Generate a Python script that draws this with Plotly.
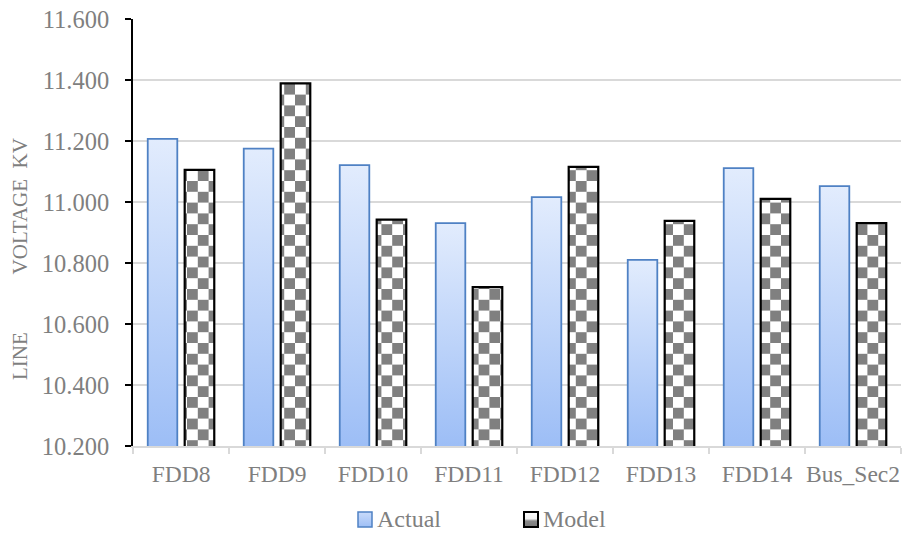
import plotly.graph_objects as go

# Feeder line voltages (kV): measured vs. simulated
feeders = ["FDD8", "FDD9", "FDD10", "FDD11", "FDD12", "FDD13", "FDD14", "Bus_Sec2"]
actual_kv = [11.207, 11.175, 11.121, 10.931, 11.016, 10.810, 11.111, 11.052]
model_kv = [11.105, 11.389, 10.942, 10.721, 11.115, 10.938, 11.010, 10.931]

y_ticks = [10.2, 10.4, 10.6, 10.8, 11.0, 11.2, 11.4, 11.6]
series_names = ["Actual", "Model"]
y_title = "LINE" + "\u00a0" * 11 + "VOLTAGE" + "\u00a0" * 2 + "KV"

FONT = "Liberation Serif"
GRAY = "#7f7f7f"
W, H = 908, 536
L, R, T, B = 133, 901, 19, 446


def px_x(p):
    return (p - L) / (R - L)


def px_y(p):
    return (B - p) / (B - T)


fig = go.Figure()
fig.add_trace(go.Bar(
    x=feeders, y=actual_kv, name=series_names[0],
    marker=dict(color="#bcd3f8", line=dict(color="#4f81c4", width=1.8)),
))
fig.add_trace(go.Bar(
    x=feeders, y=model_kv, name=series_names[1],
    marker=dict(color="#b0b0b0", line=dict(color="#000000", width=2.2)),
))

# hand-placed legend (swatch + label)
shapes = [
    dict(type="rect", xref="paper", yref="paper",
         x0=px_x(358), x1=px_x(372), y0=px_y(527), y1=px_y(512),
         fillcolor="#b0cbf7", line=dict(color="#4f81c4", width=1.5)),
    dict(type="rect", xref="paper", yref="paper",
         x0=px_x(524), x1=px_x(538), y0=px_y(527), y1=px_y(512),
         fillcolor="#a0a0a0", line=dict(color="#000000", width=2)),
]
annotations = [
    dict(text=series_names[0], xref="paper", yref="paper", x=px_x(375), y=px_y(519),
         xanchor="left", yanchor="middle", showarrow=False,
         font=dict(family=FONT, size=24, color=GRAY)),
    dict(text=series_names[1], xref="paper", yref="paper", x=px_x(541), y=px_y(519),
         xanchor="left", yanchor="middle", showarrow=False,
         font=dict(family=FONT, size=24, color=GRAY)),
    dict(text=y_title, xref="paper", yref="paper", x=px_x(20), y=px_y(259),
         xanchor="center", yanchor="middle", textangle=-90, showarrow=False,
         font=dict(family=FONT, size=21, color=GRAY)),
]

fig.update_layout(
    width=W, height=H,
    margin=dict(l=L, r=W - R, t=T, b=H - B, pad=0),
    paper_bgcolor="white", plot_bgcolor="white",
    barmode="group", bargap=0.23, bargroupgap=0.2,
    showlegend=False,
    font=dict(family=FONT, size=24, color=GRAY),
    shapes=shapes, annotations=annotations,
)
fig.update_xaxes(
    type="category", showgrid=False, tickangle=0,
    showline=True, linecolor="#d9d9d9", linewidth=1.5,
    ticks="outside", tickson="boundaries", ticklen=6, tickwidth=1.5, tickcolor="#d9d9d9",
    tickfont=dict(family=FONT, size=23.5, color=GRAY), ticklabelstandoff=6,
)
fig.update_yaxes(
    range=[10.2, 11.6], tickvals=y_ticks, tickformat=".3f",
    showgrid=True, gridcolor="#d9d9d9", gridwidth=1.5, zeroline=False,
    showline=True, linecolor="#000000", linewidth=1.8,
    ticks="outside", ticklen=6, tickwidth=1.8, tickcolor="#000000",
    tickfont=dict(family=FONT, size=24.5, color=GRAY), ticklabelstandoff=11,
)

# per-bar vertical gradient for measured bars, checkerboard fill for simulated bars
post_js = """
var gd = document.getElementById('{plot_id}');
var NS = 'http://www.w3.org/2000/svg';
function mk(tag, attrs, parent) {
  var e = document.createElementNS(NS, tag);
  for (var k in attrs) e.setAttribute(k, attrs[k]);
  if (parent) parent.appendChild(e);
  return e;
}
function decorate() {
  var svg = gd.querySelector('svg.main-svg');
  var defs = svg.querySelector('defs');
  var plotH = gd._fullLayout._size.h;
  if (!defs.querySelector('#modelFill')) {
    var g = mk('linearGradient', {id: 'actualSwatch', x1: 0, y1: 0, x2: 0, y2: 1}, defs);
    mk('stop', {offset: '0', 'stop-color': '#c9dbfa'}, g);
    mk('stop', {offset: '1', 'stop-color': '#9ebff6'}, g);
    var s = mk('linearGradient', {id: 'modelSwatch', x1: 0, y1: 0, x2: 0, y2: 1}, defs);
    mk('stop', {offset: '0', 'stop-color': '#ffffff'}, s);
    mk('stop', {offset: '0.45', 'stop-color': '#f2f2f2'}, s);
    mk('stop', {offset: '0.6', 'stop-color': '#8a8a8a'}, s);
    mk('stop', {offset: '1', 'stop-color': '#7a7a7a'}, s);
    var p = mk('pattern', {id: 'modelFill', patternUnits: 'userSpaceOnUse',
                           width: 21.6, height: 21.6}, defs);
    mk('rect', {x: 0, y: 0, width: 21.6, height: 21.6, fill: '#ffffff'}, p);
    mk('rect', {x: 0, y: 0, width: 10.8, height: 10.8, fill: '#808080'}, p);
    mk('rect', {x: 10.8, y: 10.8, width: 10.8, height: 10.8, fill: '#808080'}, p);
  }
  var traces = gd.querySelectorAll('.barlayer .trace');
  if (traces.length >= 2) {
    traces[0].querySelectorAll('path').forEach(function (pth, j) {
      var id = 'actualFill' + j;
      var old = defs.querySelector('#' + id);
      if (old) old.remove();
      var top = pth.getBBox().y;
      var lg = mk('linearGradient', {id: id, gradientUnits: 'userSpaceOnUse',
                                     x1: 0, y1: top, x2: 0, y2: plotH}, defs);
      mk('stop', {offset: '0', 'stop-color': '#e2ecfd'}, lg);
      mk('stop', {offset: '1', 'stop-color': '#9dbef6'}, lg);
      pth.style.fill = 'url(#' + id + ')';
    });
    traces[1].querySelectorAll('path').forEach(function (pth) {
      pth.style.fill = 'url(#modelFill)';
    });
  }
  var sw = gd.querySelectorAll('.layer-above .shapelayer path');
  if (sw.length >= 2) {
    sw[0].style.fill = 'url(#actualSwatch)';
    sw[1].style.fill = 'url(#modelSwatch)';
  }
}
decorate();
gd.on('plotly_afterplot', decorate);
"""

fig.write_html("out.html", config={"displayModeBar": False}, post_script=post_js)
